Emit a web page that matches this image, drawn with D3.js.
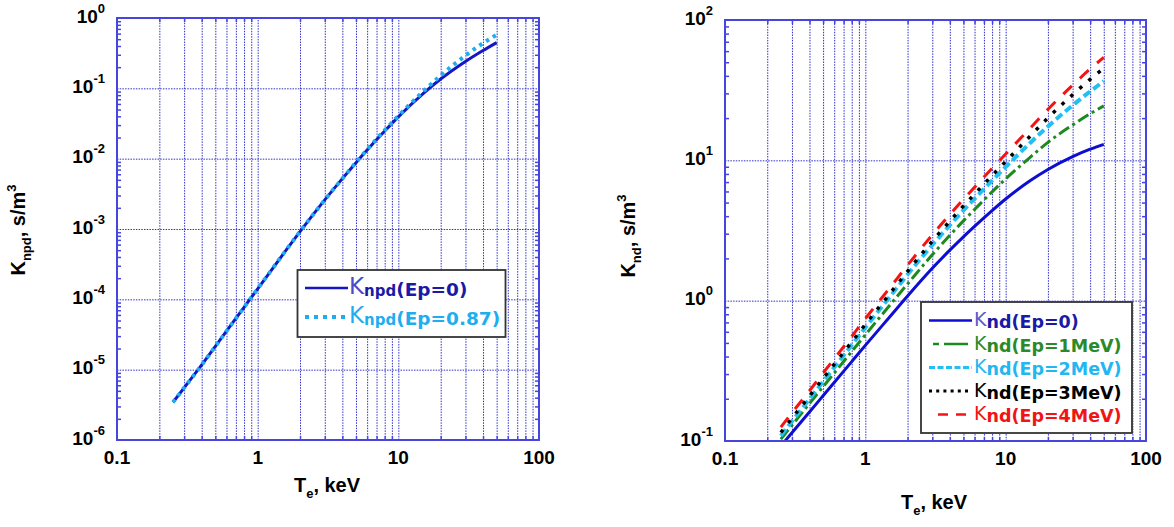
<!DOCTYPE html>
<html>
<head>
<meta charset="utf-8">
<script src="https://cdn.jsdelivr.net/npm/d3@7"></script>
<style>
  html, body { margin: 0; padding: 0; background: #ffffff; }
  svg { display: block; }
</style>
</head>
<body>
<svg id="chart" width="1174" height="527"></svg>
<script>
// Electron temperature grid (keV)
const tempKeV = [0.25, 0.3, 0.4, 0.5, 0.6, 0.8, 1, 1.5, 2, 3, 4, 5, 6, 8, 10, 15, 20, 30, 40, 50];

// n + p + d rate coefficient K_npd, s/m^3
const kNpdEp0   = [3.44e-6, 5.52e-6, 1.167e-5, 2.14e-5, 3.52e-5, 7.69e-5, 1.41e-4, 4.26e-4, 9.2e-4, 2.59e-3,
                   5.2e-3, 8.77e-3, 1.324e-2, 2.47e-2, 3.93e-2, 8.41e-2, 0.1355, 0.241, 0.345, 0.447];
const kNpdEp087 = [3.44e-6, 5.52e-6, 1.167e-5, 2.14e-5, 3.52e-5, 7.69e-5, 1.41e-4, 4.26e-4, 9.2e-4, 2.59e-3,
                   5.2e-3, 8.86e-3, 1.35e-2, 2.54e-2, 4.05e-2, 9.0e-2, 0.152, 0.292, 0.438, 0.577];

// n + d rate coefficient K_nd, s/m^3, for proton energies 0..4 MeV
const kNdEp0 = [0.092, 0.1146, 0.161, 0.210, 0.261, 0.368, 0.48, 0.771, 1.079, 1.70,
                2.29, 2.85, 3.38, 4.38, 5.30, 7.18, 8.61, 10.63, 12.0, 13.0];
const kNdEp1 = [0.103, 0.1295, 0.185, 0.2436, 0.305, 0.434, 0.571, 0.933, 1.316, 2.125,
                2.92, 3.705, 4.46, 5.96, 7.37, 10.55, 13.43, 17.86, 21.48, 24.44];
const kNdEp2 = [0.109, 0.138, 0.199, 0.265, 0.334, 0.483, 0.643, 1.07, 1.538, 2.493,
                3.447, 4.40, 5.315, 7.172, 8.972, 13.36, 17.45, 24.65, 31.0, 36.64];
const kNdEp3 = [0.115, 0.1455, 0.209, 0.279, 0.352, 0.508, 0.677, 1.126, 1.619, 2.652,
                3.687, 4.731, 5.746, 7.796, 9.805, 14.93, 20.06, 29.34, 37.8, 45.24];
const kNdEp4 = [0.1254, 0.1586, 0.228, 0.305, 0.385, 0.557, 0.745, 1.241, 1.789, 2.944,
                4.104, 5.275, 6.424, 8.763, 11.08, 17.02, 23.07, 34.33, 44.79, 54.1];

// Axis tick labels
const xTickValues = [0.1, 1, 10, 100];
const xTickLabels = ["0.1", "1", "10", "100"];
const yExpNpd = [0, -1, -2, -3, -4, -5, -6];
const yExpNd = [2, 1, 0, -1];

// Legend texts
const legendNpdTails = ["(Ep=0)", "(Ep=0.87)"];
const legendNdTails = ["(Ep=0)", "(Ep=1MeV)", "(Ep=2MeV)", "(Ep=3MeV)", "(Ep=4MeV)"];

const svg = d3.select("#chart");
const FRAME = "#4646df";
const GRID = "#3030cc";
const TICKFONT = "'Liberation Sans', Arial, sans-serif";
const LEGFONT = "'DejaVu Sans', Verdana, sans-serif";

function decadeMinors(lo, hi) {
  const out = [];
  for (let e = Math.round(Math.log10(lo)); e < Math.round(Math.log10(hi)); e++) {
    for (let m = 2; m <= 9; m++) out.push(m * Math.pow(10, e));
  }
  return out;
}
function interiorDecades(lo, hi) {
  const out = [];
  for (let e = Math.round(Math.log10(lo)) + 1; e < Math.round(Math.log10(hi)); e++) out.push(Math.pow(10, e));
  return out;
}

function drawPanel(cfg) {
  const g = svg.append("g");
  const x = d3.scaleLog().domain([0.1, 100]).range([cfg.x0, cfg.x1]);
  const y = d3.scaleLog().domain(cfg.yDomain).range([cfg.y1, cfg.y0]);
  const w = cfg.x1 - cfg.x0, h = cfg.y1 - cfg.y0;

  // dotted grid: every x minor/major, y majors only
  const gridX = decadeMinors(0.1, 100).concat(interiorDecades(0.1, 100));
  const gx = g.append("g").attr("transform", `translate(0,${cfg.y1})`)
    .call(d3.axisBottom(x).tickValues(gridX).tickSize(-h).tickFormat(""));
  const gy = g.append("g").attr("transform", `translate(${cfg.x0},0)`)
    .call(d3.axisLeft(y).tickValues(interiorDecades(cfg.yDomain[0], cfg.yDomain[1])).tickSize(-w).tickFormat(""));
  [gx, gy].forEach(a => {
    a.select(".domain").remove();
    a.selectAll("line").attr("stroke", GRID).attr("stroke-width", 1).attr("stroke-dasharray", "1.5,1.2");
  });

  // inward minor ticks on all four sides
  const minorY = decadeMinors(cfg.yDomain[0], cfg.yDomain[1]);
  const minorX = decadeMinors(0.1, 100);
  const tickAxes = [
    g.append("g").attr("transform", `translate(${cfg.x0},0)`).call(d3.axisLeft(y).tickValues(minorY).tickSize(-4).tickFormat("")),
    g.append("g").attr("transform", `translate(${cfg.x1},0)`).call(d3.axisRight(y).tickValues(minorY).tickSize(-4).tickFormat("")),
    g.append("g").attr("transform", `translate(0,${cfg.y1})`).call(d3.axisBottom(x).tickValues(minorX).tickSize(-4).tickFormat("")),
    g.append("g").attr("transform", `translate(0,${cfg.y0})`).call(d3.axisTop(x).tickValues(minorX).tickSize(-4).tickFormat(""))
  ];
  tickAxes.forEach(a => {
    a.select(".domain").remove();
    a.selectAll("line").attr("stroke", FRAME).attr("stroke-width", 1.5);
  });

  // curves
  const clipId = cfg.id + "-clip";
  svg.append("clipPath").attr("id", clipId).append("rect")
    .attr("x", cfg.x0).attr("y", cfg.y0).attr("width", w).attr("height", h);
  const line = d3.line().x(d => x(d[0])).y(d => y(d[1])).curve(d3.curveMonotoneX);
  const cg = g.append("g").attr("clip-path", `url(#${clipId})`);
  cfg.series.forEach(s => {
    cg.append("path")
      .datum(tempKeV.map((t, i) => [t, s.values[i]]))
      .attr("fill", "none")
      .attr("stroke", s.color)
      .attr("stroke-width", s.width)
      .attr("stroke-dasharray", s.dash || null)
      .attr("d", line);
  });

  // frame
  g.append("rect").attr("x", cfg.x0).attr("y", cfg.y0).attr("width", w).attr("height", h)
    .attr("fill", "none").attr("stroke", FRAME).attr("stroke-width", 2);

  // x tick labels
  xTickValues.forEach((v, i) => {
    g.append("text").attr("x", x(v)).attr("y", cfg.y1 + 24)
      .attr("text-anchor", "middle").attr("font-family", TICKFONT)
      .attr("font-weight", "bold").attr("font-size", 19).attr("fill", "#000")
      .text(xTickLabels[i]);
  });

  // y tick labels as 10^n
  cfg.yExp.forEach(e => {
    const t = g.append("text").attr("x", cfg.x0 - 12).attr("y", y(Math.pow(10, e)) + 4.5)
      .attr("text-anchor", "end").attr("font-family", TICKFONT)
      .attr("font-weight", "bold").attr("fill", "#000");
    t.append("tspan").attr("font-size", 19).text("10");
    t.append("tspan").attr("font-size", 13).attr("dy", -10).text(String(e));
  });

  // x title
  const xt = g.append("text").attr("x", cfg.xTitleX).attr("y", cfg.xTitleY)
    .attr("text-anchor", "middle").attr("font-family", TICKFONT)
    .attr("font-weight", "bold").attr("fill", "#000");
  xt.append("tspan").attr("font-size", 20).text("T");
  xt.append("tspan").attr("font-size", 13).attr("dy", 6).text("e");
  xt.append("tspan").attr("font-size", 20).attr("dy", -6).text(", keV");

  // y title
  const yt = g.append("text")
    .attr("transform", `translate(${cfg.yTitleX},${cfg.yTitleY}) rotate(-90)`)
    .attr("text-anchor", "middle").attr("font-family", TICKFONT)
    .attr("font-weight", "bold").attr("fill", "#000");
  yt.append("tspan").attr("font-size", 20).text("K");
  yt.append("tspan").attr("font-size", 13).attr("dy", 6).text(cfg.ySub);
  yt.append("tspan").attr("font-size", 20).attr("dy", -6).text(", s/m");
  yt.append("tspan").attr("font-size", 13).attr("dy", -9).text("3");

  return { g, x, y };
}

// ---- left panel: K_npd ----
drawPanel({
  id: "npd", x0: 117, x1: 539, y0: 18, y1: 440,
  yDomain: [1e-6, 1], yExp: yExpNpd,
  xTitleX: 327, xTitleY: 492, yTitleX: 25, yTitleY: 230, ySub: "npd",
  series: [
    { values: kNpdEp0, color: "#1616c4", width: 3 },
    { values: kNpdEp087, color: "#1eaef0", width: 4, dash: "3.5,4.5" }
  ]
});

// ---- right panel: K_nd ----
drawPanel({
  id: "nd", x0: 725, x1: 1146, y0: 20, y1: 441,
  yDomain: [0.1, 100], yExp: yExpNd,
  xTitleX: 934, xTitleY: 509, yTitleX: 635, yTitleY: 236, ySub: "nd",
  series: [
    { values: kNdEp0, color: "#0e0ed2", width: 3 },
    { values: kNdEp1, color: "#1c8a1c", width: 3, dash: "12,4,3,4" },
    { values: kNdEp2, color: "#22bff2", width: 4, dash: "8,4" },
    { values: kNdEp3, color: "#000000", width: 3.5, dash: "3.5,8.5" },
    { values: kNdEp4, color: "#f21414", width: 3, dash: "12,11" }
  ]
});

// ---- legend, left panel ----
(function () {
  const g = svg.append("g");
  g.append("rect").attr("x", 297.5).attr("y", 270).attr("width", 208).attr("height", 67)
    .attr("fill", "#fff").attr("stroke", "#333").attr("stroke-width", 1.8);
  const rows = [
    { y: 296, ly: 288, color: "#1616c4", kColor: "#4b4bc9", txtColor: "#1a1aa6", width: 2.5, dash: null },
    { y: 325, ly: 317, color: "#1eaef0", kColor: "#1eaef0", txtColor: "#1eaef0", width: 4, dash: "4,5" }
  ];
  rows.forEach((r, i) => {
    g.append("line").attr("x1", 305).attr("x2", 348).attr("y1", r.ly).attr("y2", r.ly)
      .attr("stroke", r.color).attr("stroke-width", r.width).attr("stroke-dasharray", r.dash);
    const t = g.append("text").attr("x", 349).attr("y", r.y).attr("font-family", LEGFONT)
      .attr("fill", r.txtColor);
    t.append("tspan").attr("font-size", 23).attr("dy", -2).attr("fill", r.kColor).text("K");
    t.append("tspan").attr("font-size", 15).attr("font-weight", "bold").attr("dy", 2).text("npd");
    t.append("tspan").attr("font-size", 18.5).attr("font-weight", "bold").text(legendNpdTails[i]);
  });
})();

// ---- legend, right panel ----
(function () {
  const g = svg.append("g");
  g.append("rect").attr("x", 921).attr("y", 302).attr("width", 211).attr("height", 131)
    .attr("fill", "#fff").attr("stroke", "#333").attr("stroke-width", 1.8);
  const rows = [
    { color: "#0e0ed2", kColor: "#5a5acb", txtColor: "#1a1aa6", width: 2.5, dash: null, x1: 929 },
    { color: "#1c8a1c", kColor: "#2a8a2a", txtColor: "#2a8a2a", width: 2.5, dash: "6,5,18,0", x1: 933 },
    { color: "#22bff2", kColor: "#22b7f0", txtColor: "#22b7f0", width: 3, dash: "6,2.5", x1: 929 },
    { color: "#000000", kColor: "#000", txtColor: "#000", width: 3, dash: "3,4.2", x1: 929 },
    { color: "#f21414", kColor: "#f21414", txtColor: "#f21414", width: 2.5, dash: "10,8", x1: 938 }
  ];
  rows.forEach((r, i) => {
    const by = 328 + i * 23.5;
    g.append("line").attr("x1", r.x1).attr("x2", 972).attr("y1", by - 7.5).attr("y2", by - 7.5)
      .attr("stroke", r.color).attr("stroke-width", r.width).attr("stroke-dasharray", r.dash);
    const t = g.append("text").attr("x", 974).attr("y", by).attr("font-family", LEGFONT)
      .attr("fill", r.txtColor);
    t.append("tspan").attr("font-size", 19).attr("dy", -2).attr("fill", r.kColor).text("K");
    t.append("tspan").attr("font-size", 17.5).attr("font-weight", "bold").attr("dy", 2).text("nd" + legendNdTails[i]);
  });
})();
</script>
</body>
</html>
